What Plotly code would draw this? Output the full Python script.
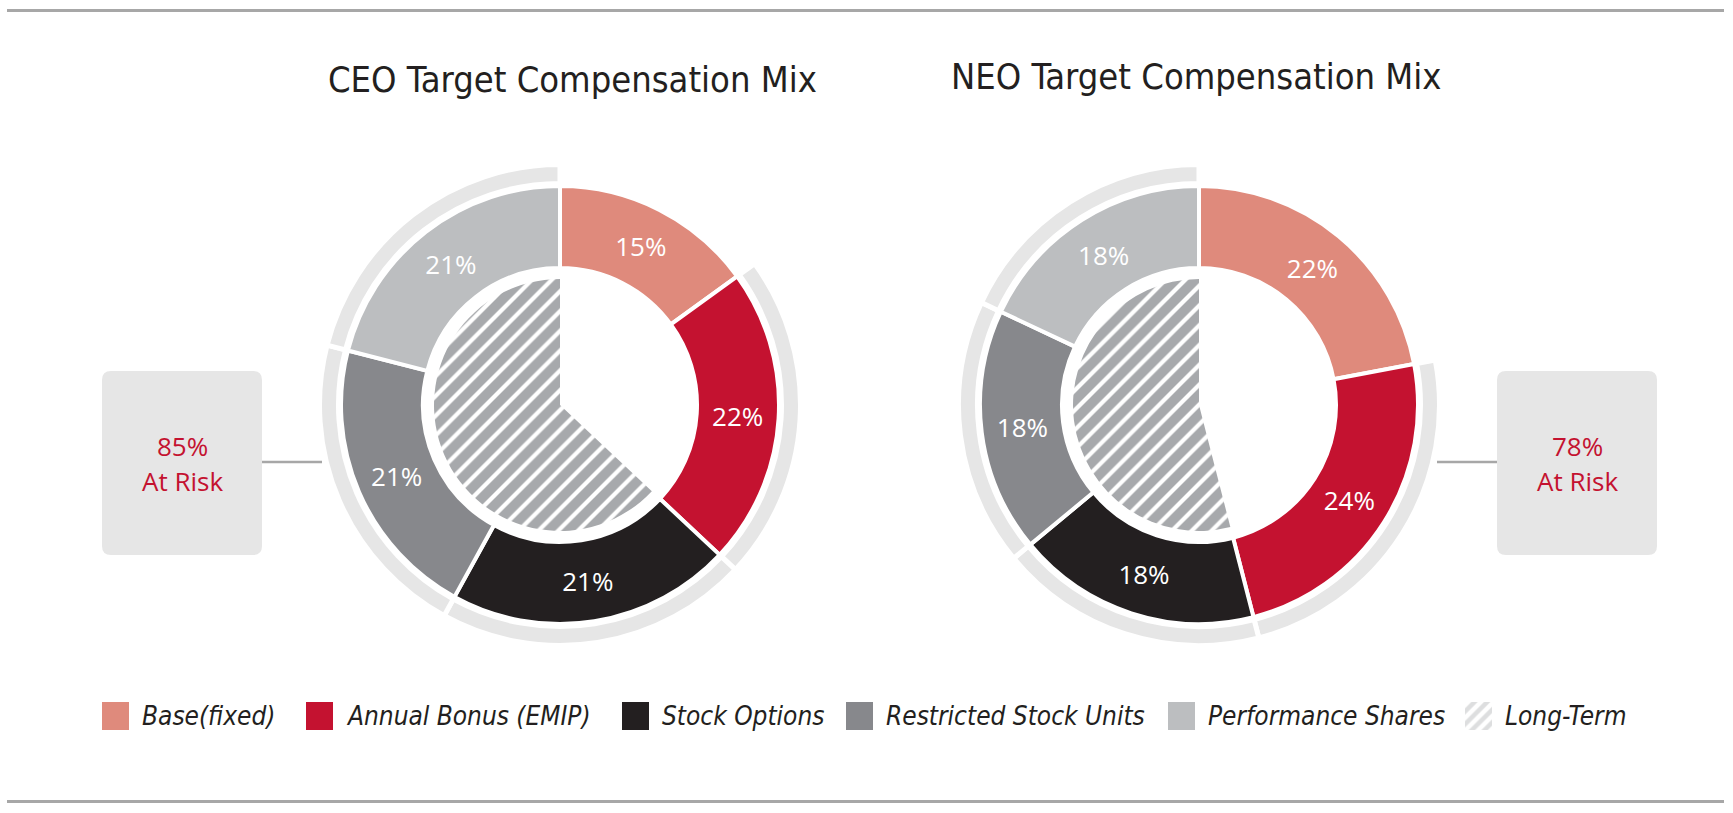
import plotly.graph_objects as go

W, H = 1733, 813

# ---------------- data ----------------
CATEGORIES = ["Base (fixed)", "Annual Bonus (EMIP)", "Stock Options",
              "Restricted Stock Units", "Performance Shares"]
CEO_VALUES = [15, 22, 21, 21, 21]
NEO_VALUES = [22, 24, 18, 18, 18]
CHART_TITLES = ["CEO Target Compensation Mix", "NEO Target Compensation Mix"]
LEGEND_LABELS = ["Base(fixed)", "Annual Bonus (EMIP)", "Stock Options",
                 "Restricted Stock Units", "Performance Shares", "Long-Term"]
TERM_LABELS = ["Short-Term", "Long-Term"]
AT_RISK_TEXT = "At Risk"

# ---------------- styles ----------------
SLICE_COLORS = ["#df8a7c", "#c41230", "#231f20", "#87888c", "#bcbec0"]
RING_GRAY = "#e6e6e6"
HATCH_GRAY = "#a7a9ac"
RULE_GRAY = "#a7a7a7"
RED_TEXT = "#c41230"
TITLE_FONT = "DejaVu Sans Condensed, Liberation Sans, sans-serif"
LABEL_FONT = "Open Sans, Noto Sans, sans-serif"
LEGEND_FONT = "DejaVu Sans Condensed, Liberation Sans, sans-serif"

# layout geometry (pixels)
CENTERS = [(560, 405), (1199, 405)]
TITLE_POS = [(572, 79), (1196, 76)]
BOX_X = [(102, 262), (1497, 1657)]
BOX_Y = (371, 555)
CONNECT = [(262, 322), (1437, 1497)]
LEG_SWATCH_X = [102, 306, 622, 846, 1168, 1465]
LEG_Y = (702, 730)
SW = 27


def dom(cx, cy, r):
    return dict(x=[(cx - r) / W, (cx + r) / W],
                y=[(H - cy - r) / H, (H - cy + r) / H])


fig = go.Figure()

for (cx, cy), vals in zip(CENTERS, [CEO_VALUES, NEO_VALUES]):
    # outer light-gray "at risk" ring (base slice left empty)
    r_out, r_in = 240.5, 221.5
    fig.add_trace(go.Pie(
        values=vals, labels=CATEGORIES, domain=dom(cx, cy, r_out),
        hole=r_in / r_out, sort=False, direction="clockwise", rotation=0,
        showlegend=False, hoverinfo="skip", textinfo="none",
        marker=dict(colors=["rgba(0,0,0,0)"] + [RING_GRAY] * (len(vals) - 1),
                    line=dict(color="white", width=5))))
    # main coloured ring
    r_out, r_in = 219, 137
    fig.add_trace(go.Pie(
        values=vals, labels=CATEGORIES, domain=dom(cx, cy, r_out),
        hole=r_in / r_out, sort=False, direction="clockwise", rotation=0,
        showlegend=False, hoverinfo="skip",
        text=[f"{v}%" for v in vals], textinfo="text",
        textposition="inside", insidetextorientation="horizontal",
        textfont=dict(color="white", size=26, family=LABEL_FONT),
        marker=dict(colors=SLICE_COLORS, line=dict(color="white", width=4))))
    # inner hatched long-term pie
    short_term = vals[0] + vals[1]
    long_term = sum(vals[2:])
    r = 126
    fig.add_trace(go.Pie(
        values=[short_term, long_term], labels=TERM_LABELS, domain=dom(cx, cy, r),
        sort=False, direction="clockwise", rotation=0,
        showlegend=False, hoverinfo="skip", textinfo="none",
        marker=dict(colors=["rgba(0,0,0,0)", HATCH_GRAY],
                    pattern=dict(shape=["", "/"], fgcolor="white",
                                 bgcolor=["rgba(0,0,0,0)", HATCH_GRAY],
                                 size=14, solidity=0.3),
                    line=dict(width=0))))

shapes = []
annotations = []

# top and bottom rules
for y in (10.5, 801.5):
    shapes.append(dict(type="line", xref="x", yref="y", x0=7, x1=1724, y0=y, y1=y,
                       line=dict(color=RULE_GRAY, width=3)))

# titles
for (tx, ty), t in zip(TITLE_POS, CHART_TITLES):
    annotations.append(dict(x=tx, y=ty, xref="x", yref="y", text=t, showarrow=False,
                            xanchor="center", yanchor="middle",
                            font=dict(family=TITLE_FONT, size=36, color="#231f20")))


def rounded_rect(x0, y0, x1, y1, r):
    return (f"M{x0 + r},{y0} L{x1 - r},{y0} Q{x1},{y0} {x1},{y0 + r} "
            f"L{x1},{y1 - r} Q{x1},{y1} {x1 - r},{y1} L{x0 + r},{y1} "
            f"Q{x0},{y1} {x0},{y1 - r} L{x0},{y0 + r} Q{x0},{y0} {x0 + r},{y0} Z")


# at-risk boxes
for (bx0, bx1), (lx0, lx1), vals in zip(BOX_X, CONNECT, [CEO_VALUES, NEO_VALUES]):
    shapes.append(dict(type="path", xref="x", yref="y",
                       path=rounded_rect(bx0, BOX_Y[0], bx1, BOX_Y[1], 9),
                       fillcolor=RING_GRAY, line=dict(width=0), layer="below"))
    ymid = (BOX_Y[0] + BOX_Y[1]) / 2
    shapes.append(dict(type="line", xref="x", yref="y", x0=lx0, x1=lx1,
                       y0=ymid - 1, y1=ymid - 1, line=dict(color=RULE_GRAY, width=2.5)))
    at_risk = 100 - vals[0]
    bxc = (bx0 + bx1) / 2
    annotations.append(dict(x=bxc, y=446, xref="x", yref="y", text=f"{at_risk}%",
                            showarrow=False, xanchor="center", yanchor="middle",
                            font=dict(family=LABEL_FONT, size=26, color=RED_TEXT)))
    annotations.append(dict(x=bxc, y=481, xref="x", yref="y", text=AT_RISK_TEXT,
                            showarrow=False, xanchor="center", yanchor="middle",
                            font=dict(family=LABEL_FONT, size=26, color=RED_TEXT)))

# legend
for i, (lab, sx) in enumerate(zip(LEGEND_LABELS, LEG_SWATCH_X)):
    if i < len(SLICE_COLORS):
        shapes.append(dict(type="rect", xref="x", yref="y", x0=sx, x1=sx + SW,
                           y0=LEG_Y[0], y1=LEG_Y[1], fillcolor=SLICE_COLORS[i],
                           line=dict(width=0)))
    else:
        fig.add_trace(go.Scatter(
            x=[sx, sx + SW, sx + SW, sx, sx], y=[LEG_Y[0], LEG_Y[0], LEG_Y[1], LEG_Y[1], LEG_Y[0]],
            mode="lines", fill="toself", line=dict(width=0, color="white"),
            fillcolor="white",
            fillpattern=dict(shape="/", fgcolor="#bcbec0", bgcolor="white",
                             size=9, solidity=0.5),
            showlegend=False, hoverinfo="skip"))
    annotations.append(dict(x=sx + SW + 11, y=(LEG_Y[0] + LEG_Y[1]) / 2, xref="x", yref="y",
                            text=f"<i>{lab}</i>", showarrow=False,
                            xanchor="left", yanchor="middle",
                            font=dict(family=LEGEND_FONT, size=26, color="#231f20")))

fig.update_layout(
    width=W, height=H, margin=dict(l=0, r=0, t=0, b=0),
    paper_bgcolor="white", plot_bgcolor="white",
    xaxis=dict(range=[0, W], visible=False, fixedrange=True, domain=[0, 1]),
    yaxis=dict(range=[H, 0], visible=False, fixedrange=True, domain=[0, 1]),
    shapes=shapes, annotations=annotations, showlegend=False,
)

fig.write_html("out.html",
               config={"displayModeBar": False},
               post_script="document.body.style.margin='0px';"
                           "document.body.style.padding='0px';"
                           "document.body.style.overflow='hidden';")
